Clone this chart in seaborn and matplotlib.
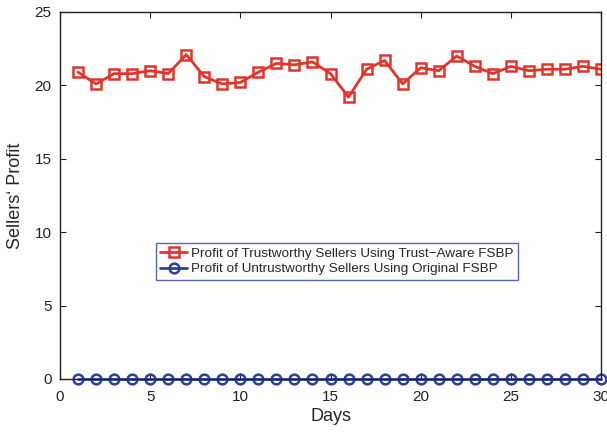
import numpy as np
import pandas as pd
import seaborn as sns
import matplotlib
matplotlib.use("Agg")
import matplotlib.pyplot as plt

# Data
days = list(range(1, 31))
trust_aware = [20.9, 20.1, 20.8, 20.8, 21.0, 20.8, 22.1, 20.6, 20.1, 20.2,
               20.9, 21.5, 21.4, 21.6, 20.8, 19.2, 21.1, 21.7, 20.1, 21.2,
               21.0, 22.0, 21.3, 20.8, 21.3, 21.0, 21.1, 21.1, 21.3, 21.1]
untrustworthy = [0.0] * 30

label_red = "Profit of Trustworthy Sellers Using Trust\u2212Aware FSBP"
label_blue = "Profit of Untrustworthy Sellers Using Original FSBP"

df = pd.DataFrame({"day": days, "trust": trust_aware, "untrust": untrustworthy})

sns.set_style("white")
plt.rcParams["font.family"] = ["Liberation Sans", "DejaVu Sans"]

fig = plt.figure(figsize=(6.07, 4.32), dpi=100)
ax = fig.add_axes([60 / 607, 1 - 379 / 432, 541 / 607, 367 / 432])

red = "#e0352b"
blue = "#2e3e9e"

sns.lineplot(data=df, x="day", y="trust", ax=ax, color=red, lw=2,
             marker="s", markersize=6.5, markerfacecolor="none",
             markeredgecolor=red, markeredgewidth=1.8, label=label_red)
sns.lineplot(data=df, x="day", y="untrust", ax=ax, color=blue, lw=2,
             marker="o", markersize=7, markerfacecolor="none",
             markeredgecolor=blue, markeredgewidth=1.8, label=label_blue,
             clip_on=False)

ax.set_xlim(0, 30)
ax.set_ylim(0, 25)
ax.set_xticks([0, 5, 10, 15, 20, 25, 30])
ax.set_yticks([0, 5, 10, 15, 20, 25])
ax.tick_params(direction="in", length=4, width=0.8, labelsize=11,
               top=True, right=True, bottom=True, left=True, colors="#222222")
ax.tick_params(axis="x", pad=8)
ax.tick_params(axis="y", pad=6)
for s in ax.spines.values():
    s.set_color("#222222")
    s.set_linewidth(1.0)

ax.set_xlabel("Days", fontsize=13, labelpad=3)
ax.set_ylabel("Sellers\u2018 Profit", fontsize=13, labelpad=8)

leg = ax.legend(loc="center", bbox_to_anchor=(0.512, 0.32), fontsize=9.7,
                frameon=True, fancybox=False, handlelength=2.0,
                borderpad=0.35, labelspacing=0.2, handletextpad=0.3)
leg.get_frame().set_edgecolor(blue)
leg.get_frame().set_linewidth(1.0)

fig.savefig("out.png", dpi=100)
